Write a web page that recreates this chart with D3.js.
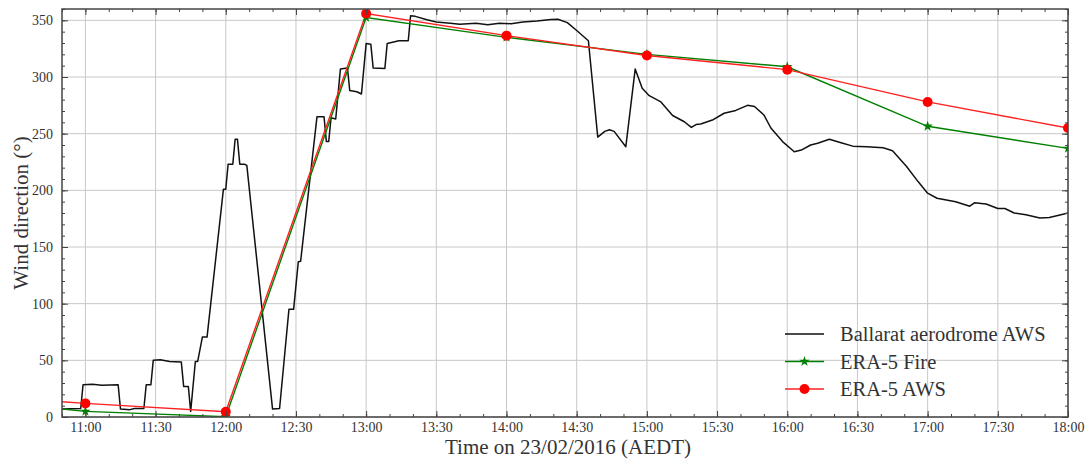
<!DOCTYPE html>
<html>
<head>
<meta charset="utf-8">
<script src="https://cdn.jsdelivr.net/npm/d3@7"></script>
<style>
  body { margin: 0; background: #fff; }
  svg text { font-family: "Liberation Serif", "DejaVu Serif", serif; fill: #333; }
</style>
</head>
<body>
<div class="canvas"></div>
<script>
// Ballarat aerodrome AWS observations (time, wind direction in degrees)
const awsTimes = ["10:50","10:58","10:59","11:03","11:07","11:14","11:15","11:19","11:21","11:25",
  "11:26","11:28","11:29","11:32","11:36","11:41","11:42","11:44","11:45","11:47",
  "11:48","11:50","11:52","11:59","12:00","12:01","12:03","12:04","12:05","12:06",
  "12:08","12:09","12:20","12:23","12:27","12:29","12:31","12:32","12:39","12:42",
  "12:43","12:44","12:45","12:47","12:49","12:52","12:53","12:56","12:58","13:00",
  "13:02","13:03","13:08","13:09","13:14","13:18","13:19","13:21","13:26","13:30",
  "13:36","13:40","13:47","13:52","13:57","14:02","14:07","14:13","14:19","14:22",
  "14:26","14:30","14:35","14:39","14:42","14:44","14:46","14:51","14:55","14:58",
  "15:01","15:06","15:11","15:16","15:19","15:21","15:23","15:28","15:33","15:38",
  "15:43","15:46","15:50","15:53","15:58","16:03","16:06","16:10","16:13","16:18",
  "16:23","16:28","16:34","16:41","16:45","16:51","16:56","17:00","17:04","17:08",
  "17:12","17:18","17:20","17:25","17:30","17:33","17:37","17:42","17:48","17:52",
  "17:57","18:00"];
const awsDir = [7,7.5,28.5,29,28,28.5,7,6.5,7.5,7.5,
  28.5,28.5,50,50.5,49,48.5,27,27,5,49,
  49,70.5,70.5,201,201,223,223,245,245,223,
  223,222,7,7.5,95,95,137,137.5,265,265,
  243,243,264,263,307,308,288,287,285,329.5,
  329,308,307.5,329.5,332,332,354,353.5,350.5,348.5,
  347.5,346.5,347.5,346,347.5,347,348.5,349.5,350.8,351,
  348,341,332,247,252,253.5,252,238.5,307,290,
  283.5,278,266,260.5,255.5,258,258.5,262,268,270.5,
  275,274,266.5,255,243,234,235.5,240,241.5,245,
  242,239,238.5,237.5,235,221,207.5,197.5,193,191.5,
  190,186,189,188,184,184,180,178.5,175.5,176,
  178.5,180];

// ERA-5 hourly values
const eraTimes = ["10:00","11:00","12:00","13:00","14:00","15:00","16:00","17:00","18:00"];
const eraFire = [17, 5, 0.3, 352.5, 335, 320, 309, 256.5, 237];
const eraAws = [21, 12, 4.7, 356, 336.5, 319, 306.5, 278, 255];

const yTicks = [0, 50, 100, 150, 200, 250, 300, 350];
const legendNames = ["Ballarat aerodrome AWS", "ERA-5 Fire", "ERA-5 AWS"];

const width = 1087, height = 459;
const margin = {top: 9, right: 19, bottom: 42, left: 62};
const innerW = width - margin.left - margin.right;
const innerH = height - margin.top - margin.bottom;

const parse = d3.timeParse("%H:%M");

const svg = d3.select('.canvas')
  .append('svg')
    .attr('width', width)
    .attr('height', height);

const graph = svg.append('g')
  .attr('transform', `translate(${margin.left}, ${margin.top})`);

const x = d3.scaleTime()
  .domain([parse("10:50"), parse("18:00")])
  .range([0, innerW]);
const y = d3.scaleLinear()
  .domain([0, 360])
  .range([innerH, 0]);

const xMajor = x.ticks(d3.timeMinute.every(30));
const xMinor = x.ticks(d3.timeMinute.every(10));
const yMinor = d3.range(0, 361, 10);

// clip for the lines
graph.append('clipPath').attr('id', 'clip')
  .append('rect').attr('width', innerW).attr('height', innerH);

// grid
const grid = graph.append('g');
grid.selectAll('.gx').data(xMajor).enter().append('line')
  .attr('x1', d => x(d)).attr('x2', d => x(d))
  .attr('y1', 0).attr('y2', innerH)
  .attr('stroke', '#c8c8c8').attr('stroke-width', 1);
grid.selectAll('.gy').data(yTicks).enter().append('line')
  .attr('x1', 0).attr('x2', innerW)
  .attr('y1', d => y(d)).attr('y2', d => y(d))
  .attr('stroke', '#c8c8c8').attr('stroke-width', 1);

const plot = graph.append('g').attr('clip-path', 'url(#clip)');

const line = d3.line().x(d => x(d.t)).y(d => y(d.v));

const awsData = awsTimes.map((t, i) => ({t: parse(t), v: awsDir[i]}));
const fireData = eraTimes.map((t, i) => ({t: parse(t), v: eraFire[i]}));
const eraAwsData = eraTimes.map((t, i) => ({t: parse(t), v: eraAws[i]}));

plot.append('path').datum(awsData)
  .attr('d', line).attr('fill', 'none')
  .attr('stroke', '#111').attr('stroke-width', 1.5).attr('stroke-linejoin', 'round');

plot.append('path').datum(fireData)
  .attr('d', line).attr('fill', 'none')
  .attr('stroke', 'green').attr('stroke-width', 1.4);

plot.append('path').datum(eraAwsData)
  .attr('d', line).attr('fill', 'none')
  .attr('stroke', '#ff2020').attr('stroke-width', 1.4);

const star = d3.symbol().type(d3.symbolStar).size(34);
plot.selectAll('.star').data(fireData).enter().append('path')
  .attr('d', star)
  .attr('transform', d => `translate(${x(d.t)},${y(d.v)})`)
  .attr('fill', 'green');

plot.selectAll('.dot').data(eraAwsData).enter().append('circle')
  .attr('cx', d => x(d.t)).attr('cy', d => y(d.v)).attr('r', 5)
  .attr('fill', 'red');

// axes with inward ticks on all four sides
const fmt = d3.timeFormat("%H:%M");
const frameColor = '#444';

function styleAxis(g) {
  g.select('.domain').remove();
  g.selectAll('line').attr('stroke', frameColor);
  g.selectAll('text').attr('font-size', 14).attr('fill', '#333');
}

graph.append('g').attr('transform', `translate(0,${innerH})`)
  .call(d3.axisBottom(x).tickValues(xMinor).tickSize(-3).tickFormat(''))
  .call(styleAxis);
graph.append('g').attr('transform', `translate(0,${innerH})`)
  .call(d3.axisBottom(x).tickValues(xMajor).tickSize(-6).tickPadding(5).tickFormat(fmt))
  .call(styleAxis);
graph.append('g')
  .call(d3.axisTop(x).tickValues(xMinor).tickSize(-3).tickFormat(''))
  .call(styleAxis);
graph.append('g')
  .call(d3.axisTop(x).tickValues(xMajor).tickSize(-6).tickFormat(''))
  .call(styleAxis);

graph.append('g')
  .call(d3.axisLeft(y).tickValues(yMinor).tickSize(-3).tickFormat(''))
  .call(styleAxis);
graph.append('g')
  .call(d3.axisLeft(y).tickValues(yTicks).tickSize(-6).tickPadding(9))
  .call(styleAxis);
graph.append('g').attr('transform', `translate(${innerW},0)`)
  .call(d3.axisRight(y).tickValues(yMinor).tickSize(-3).tickFormat(''))
  .call(styleAxis);
graph.append('g').attr('transform', `translate(${innerW},0)`)
  .call(d3.axisRight(y).tickValues(yTicks).tickSize(-6).tickFormat(''))
  .call(styleAxis);

// frame
graph.append('rect')
  .attr('width', innerW).attr('height', innerH)
  .attr('fill', 'none').attr('stroke', frameColor).attr('stroke-width', 1.5);

// axis titles
svg.append('text')
  .attr('x', margin.left + innerW / 2 + 3).attr('y', 454)
  .attr('text-anchor', 'middle').attr('font-size', 21)
  .text('Time on 23/02/2016 (AEDT)');
svg.append('text')
  .attr('transform', `translate(28, ${margin.top + innerH / 2}) rotate(-90)`)
  .attr('text-anchor', 'middle').attr('font-size', 21)
  .text('Wind direction (°)');

// legend
const legend = svg.append('g').attr('transform', 'translate(785, 334)');
const legendColors = ['#111', 'green', '#ff2020'];
legendNames.forEach((name, i) => {
  const row = legend.append('g').attr('transform', `translate(0, ${i * 27.5})`);
  row.append('line').attr('x1', 0).attr('x2', 39).attr('y1', 0).attr('y2', 0)
    .attr('stroke', legendColors[i]).attr('stroke-width', 1.4);
  if (i === 1) row.append('path').attr('d', star).attr('transform', 'translate(19.5,0)').attr('fill', 'green');
  if (i === 2) row.append('circle').attr('cx', 19.5).attr('r', 5).attr('fill', 'red');
  row.append('text').attr('x', 55).attr('y', 7).attr('font-size', 20.5).text(name);
});
</script>
</body>
</html>
